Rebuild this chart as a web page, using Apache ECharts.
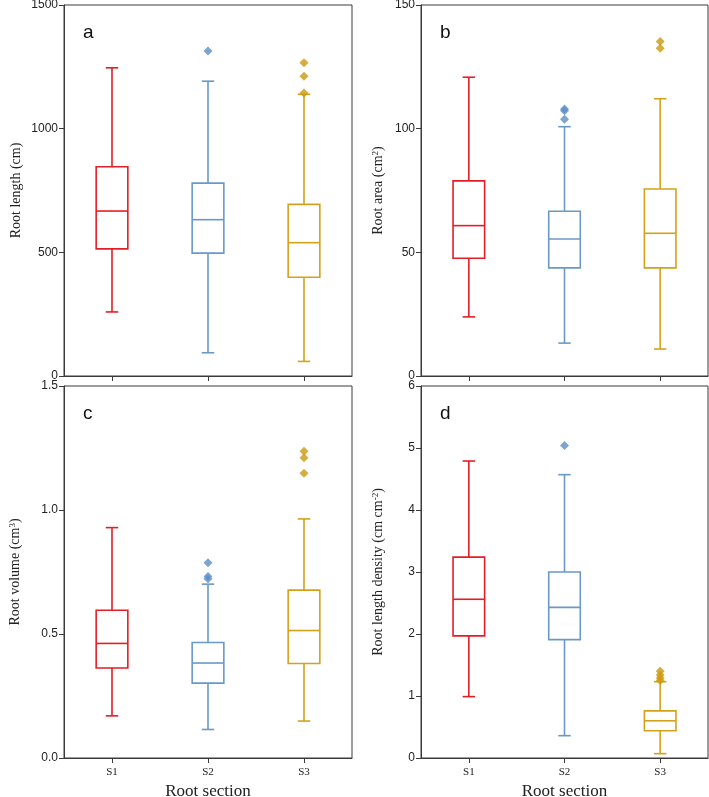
<!DOCTYPE html>
<html>
<head>
<meta charset="utf-8">
<script src="https://cdn.jsdelivr.net/npm/echarts@6/dist/echarts.min.js"></script>
<style>html,body{margin:0;padding:0;background:#fff}#c{width:709px;height:797px}</style>
</head>
<body>
<div id="c"></div>
<script>
// Data (min, Q1, median, Q3, max) per root section
const categories = ['S1', 'S2', 'S3'];
const colors = ['#e41e26', '#6a99c8', '#d4a21a'];
const outlierColors = ['#e41e26', '#5b8fc6', '#cc9a10'];

const lengthStats = [[259, 514, 667, 846, 1246], [94, 497, 632, 780, 1192], [59, 399, 539, 694, 1139]];
const lengthOutliers = [[], [1314], [1267, 1212, 1144]];

const areaStats = [[23.9, 47.6, 60.8, 78.9, 120.8], [13.3, 43.7, 55.4, 66.6, 100.8], [10.9, 43.7, 57.7, 75.6, 112.1]];
const areaOutliers = [[], [108.0, 107.2, 103.8], [135.2, 132.5]];

const volumeStats = [[0.170, 0.363, 0.462, 0.596, 0.929], [0.115, 0.302, 0.383, 0.466, 0.701], [0.149, 0.381, 0.514, 0.677, 0.964]];
const volumeOutliers = [[], [0.787, 0.732, 0.723], [1.237, 1.211, 1.148]];

const densityStats = [[0.99, 1.97, 2.56, 3.24, 4.79], [0.36, 1.91, 2.43, 3.00, 4.57], [0.07, 0.44, 0.60, 0.76, 1.23]];
const densityOutliers = [[], [5.04], [1.40, 1.34, 1.29, 1.25]];

const yMax = [1500, 150, 1.5, 6];
const yInterval = [500, 50, 0.5, 1];
const panelLetters = ['a', 'b', 'c', 'd'];

const chart = echarts.init(document.getElementById('c'));

const grids = [
  {left: 64, top: 5, width: 288, height: 371},
  {left: 421, top: 5, width: 287, height: 371},
  {left: 64, top: 386, width: 288, height: 372},
  {left: 421, top: 386, width: 287, height: 372}
];

const serif = '"Liberation Serif", "Times New Roman", serif';
const sans = '"Liberation Sans", Arial, sans-serif';

const yNames = [
  'Root length (cm)',
  'Root area (cm{sup|2})',
  'Root volume (cm{sup|3})',
  'Root length density (cm cm{sup|-2})'
];
const yNameGaps = [41, 35, 41, 35];

const allStats = [lengthStats, areaStats, volumeStats, densityStats];
const allOutliers = [lengthOutliers, areaOutliers, volumeOutliers, densityOutliers];

const xAxes = [], yAxes = [], series = [], titles = [];

grids.forEach((g, i) => {
  g.show = true;
  g.borderColor = '#3a3a3a';
  g.borderWidth = 1;
  g.backgroundColor = 'transparent';
  g.containLabel = false;
  g.outerBoundsMode = 'none';
  const bottomRow = i >= 2;
  xAxes.push({
    type: 'category', gridIndex: i, data: categories,
    axisLine: {show: true, lineStyle: {color: '#3a3a3a', width: 1}},
    axisTick: {show: true, alignWithLabel: true, length: 5, lineStyle: {color: '#3a3a3a'}},
    axisLabel: {show: bottomRow, fontFamily: serif, fontSize: 11, color: '#222', margin: 9},
    name: bottomRow ? 'Root section' : '',
    nameLocation: 'middle', nameGap: 25,
    nameTextStyle: {fontFamily: serif, fontSize: 17, color: '#222'}
  });
  yAxes.push({
    type: 'value', gridIndex: i, min: 0, max: yMax[i], interval: yInterval[i],
    axisLine: {show: true, lineStyle: {color: '#3a3a3a', width: 1}},
    axisTick: {show: true, length: 5, lineStyle: {color: '#3a3a3a'}},
    axisLabel: {fontFamily: sans, fontSize: 12, color: '#222', margin: 6,
      formatter: v => (i === 2 ? v.toFixed(1) : String(v))},
    splitLine: {show: false},
    name: yNames[i], nameLocation: 'middle', nameGap: yNameGaps[i],
    nameTextStyle: {fontFamily: serif, fontSize: 14, color: '#222',
      rich: {sup: {fontFamily: serif, fontSize: 9, verticalAlign: 'top', padding: [0, 0, 6, 0]}}}
  });
  titles.push({
    text: panelLetters[i], left: g.left + 14, top: g.top + 13,
    textStyle: {fontFamily: sans, fontSize: 19, fontWeight: 'normal', color: '#111'}
  });

  const boxData = allStats[i].map((s, k) => [k].concat(s));
  series.push({
    type: 'custom', xAxisIndex: i, yAxisIndex: i,
    encode: {x: 0, y: [1, 2, 3, 4, 5]},
    data: boxData,
    renderItem: function (params, api) {
      const k = api.value(0);
      const col = colors[k];
      const band = api.size([1, 0])[0];
      const bw = band * 0.33, cw = band * 0.13;
      const pMin = api.coord([k, api.value(1)]);
      const pQ1 = api.coord([k, api.value(2)]);
      const pMed = api.coord([k, api.value(3)]);
      const pQ3 = api.coord([k, api.value(4)]);
      const pMax = api.coord([k, api.value(5)]);
      const x = pMin[0];
      const st = {stroke: col, lineWidth: 1.6, fill: null};
      return {
        type: 'group',
        children: [
          {type: 'rect', shape: {x: x - bw / 2, y: pQ3[1], width: bw, height: pQ1[1] - pQ3[1]}, style: {stroke: col, lineWidth: 1.6, fill: 'transparent'}},
          {type: 'line', shape: {x1: x - bw / 2, y1: pMed[1], x2: x + bw / 2, y2: pMed[1]}, style: st},
          {type: 'line', shape: {x1: x, y1: pQ3[1], x2: x, y2: pMax[1]}, style: st},
          {type: 'line', shape: {x1: x, y1: pQ1[1], x2: x, y2: pMin[1]}, style: st},
          {type: 'line', shape: {x1: x - cw / 2, y1: pMax[1], x2: x + cw / 2, y2: pMax[1]}, style: st},
          {type: 'line', shape: {x1: x - cw / 2, y1: pMin[1], x2: x + cw / 2, y2: pMin[1]}, style: st}
        ]
      };
    },
    z: 2
  });

  const outData = [];
  allOutliers[i].forEach((arr, k) => arr.forEach(v => outData.push({value: [k, v], itemStyle: {color: outlierColors[k]}})));
  series.push({
    type: 'scatter', xAxisIndex: i, yAxisIndex: i,
    symbol: 'diamond', symbolSize: 9,
    data: outData, z: 3
  });
});

chart.setOption({
  animation: false,
  backgroundColor: '#fff',
  title: titles,
  grid: grids,
  xAxis: xAxes,
  yAxis: yAxes,
  series: series
});
</script>
</body>
</html>
